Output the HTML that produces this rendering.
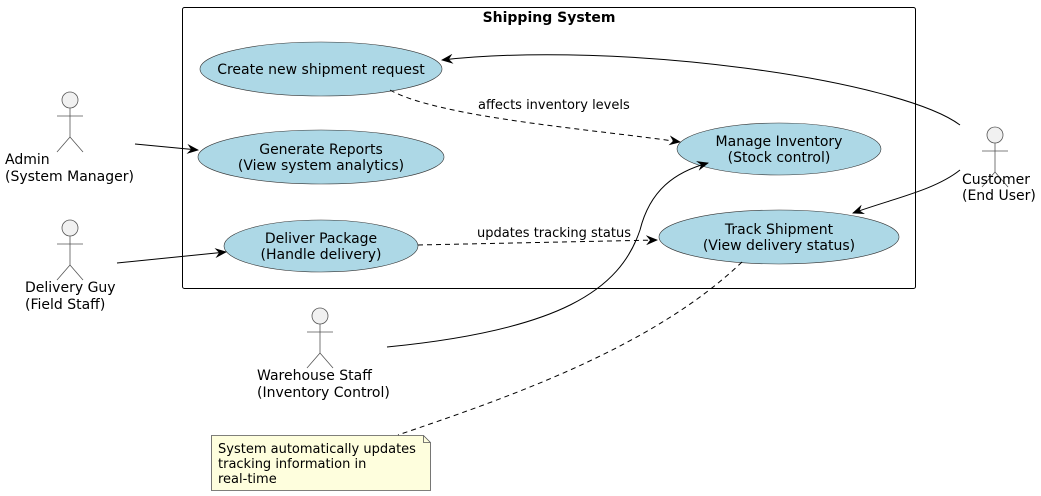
<!DOCTYPE html>
<html><head><style>body{margin:0;background:#fff}svg{display:block}text{font-family:"DejaVu Sans","Liberation Sans",sans-serif;font-size:14px;fill:#000}text.s{font-size:13px}</style></head>
<body>
<svg width="1041" height="496" viewBox="0 0 1041 496">
<defs>
<marker id="a" viewBox="0 0 12 10" refX="11" refY="5" markerWidth="12" markerHeight="10" orient="auto" markerUnits="userSpaceOnUse"><path d="M0,0 L12,5 L0,10 L4,5 Z" fill="#000"/></marker>
<g id="actor" fill="none" stroke="#555" stroke-width="0.8"><circle cx="0" cy="0" r="8" fill="#f1f1f1"/><line x1="0" y1="8" x2="0" y2="37"/><line x1="-13" y1="16" x2="13" y2="16"/><line x1="0" y1="37" x2="-13" y2="52"/><line x1="0" y1="37" x2="13" y2="52"/></g>
</defs>
<rect x="182.5" y="7.5" width="733" height="281" rx="2" fill="none" stroke="#000"/>
<text x="549" y="22" text-anchor="middle" font-weight="bold">Shipping System</text>
<g fill="#add8e6" stroke="#333" stroke-width="0.6">
<ellipse cx="321" cy="69" rx="121" ry="27"/>
<ellipse cx="321" cy="157" rx="123" ry="27"/>
<ellipse cx="321" cy="246" rx="97" ry="26"/>
<ellipse cx="779" cy="149" rx="102" ry="26"/>
<ellipse cx="779" cy="237" rx="120" ry="27"/>
</g>
<g text-anchor="middle">
<text x="321" y="74">Create new shipment request</text>
<text x="321" y="154">Generate Reports</text><text x="321" y="170">(View system analytics)</text>
<text x="321" y="243">Deliver Package</text><text x="321" y="259">(Handle delivery)</text>
<text x="779" y="146">Manage Inventory</text><text x="779" y="162">(Stock control)</text>
<text x="779" y="234">Track Shipment</text><text x="779" y="250">(View delivery status)</text>
</g>
<use href="#actor" x="70" y="100"/>
<use href="#actor" x="70" y="228"/>
<use href="#actor" x="320" y="316"/>
<use href="#actor" x="995" y="135"/>
<text x="5" y="164">Admin</text><text x="5" y="181">(System Manager)</text>
<text x="25" y="292">Delivery Guy</text><text x="25" y="309">(Field Staff)</text>
<text x="257" y="380">Warehouse Staff</text><text x="257" y="397">(Inventory Control)</text>
<text x="962" y="184">Customer</text><text x="962" y="200">(End User)</text>
<g fill="none" stroke="#000" stroke-width="1">
<path d="M135,144 L198,150" marker-end="url(#a)"/>
<path d="M117,263 L226,252" marker-end="url(#a)"/>
<path d="M960,125 C900,80 620,40 442,60" marker-end="url(#a)"/>
<path d="M960,170 C935,190 895,198 853,213" marker-end="url(#a)"/>
<path d="M387,347 C560,330 620,290 640,230 C650,190 675,172 708,163" marker-end="url(#a)"/>
<path d="M390,90 C440,118 600,130 680,142" stroke-dasharray="5,4" marker-end="url(#a)"/>
<path d="M418,245 L657,240" stroke-dasharray="5,4" marker-end="url(#a)"/>
<path d="M742,262 C650,350 500,400 398,435" stroke-dasharray="5,4"/>
</g>
<text class="s" x="478" y="109">affects inventory levels</text>
<text class="s" x="477" y="237">updates tracking status</text>
<path d="M211.5,435.5 H423.5 L430.5,442.5 V490.5 H211.5 Z" fill="#fefedd" stroke="#555" stroke-width="0.8"/>
<path d="M423.5,435.5 V442.5 H430.5" fill="none" stroke="#555" stroke-width="0.8"/>
<text class="s" x="218" y="453">System automatically updates</text>
<text class="s" x="218" y="468">tracking information in</text>
<text class="s" x="218" y="483">real-time</text>
</svg>
</body></html>
